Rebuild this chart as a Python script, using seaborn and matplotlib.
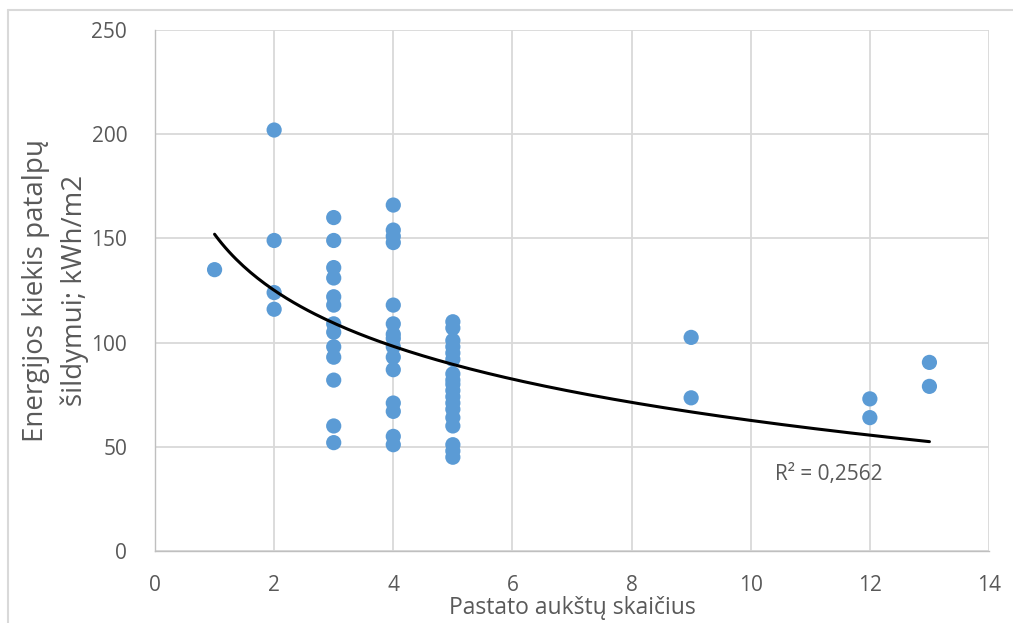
import numpy as np
import pandas as pd
import matplotlib
matplotlib.use("Agg")
import matplotlib.pyplot as plt
import seaborn as sns
from matplotlib.lines import Line2D

# Data
floors_1 = [1]
energy_1 = [135]
floors_2 = [2, 2, 2, 2]
energy_2 = [202, 149, 124, 116]
floors_3 = [3] * 13
energy_3 = [160, 149, 136, 131, 122, 118, 109, 105, 98, 93, 82, 60, 52]
floors_4 = [4] * 15
energy_4 = [166, 154, 151, 148, 118, 109, 104, 102, 98, 93, 87, 71, 67, 55, 51]
floors_5 = [5] * 18
energy_5 = [110, 107, 101, 98, 95, 92, 85, 82, 80, 77, 74, 71, 68, 64, 60, 51, 48, 45]
floors_hi = [9, 9, 12, 12, 13, 13]
energy_hi = [102.5, 73.5, 73, 64, 90.5, 79]

# Logarithmic trendline coefficients (y = a + b ln x)
trend_a = 152.0
trend_b = -38.8
r2_label = "R² = 0,2562"

x_ticks = [0, 2, 4, 6, 8, 10, 12, 14]
y_ticks = [0, 50, 100, 150, 200, 250]
x_label = "Pastato aukštų skaičius"
y_label = "Energijos kiekis patalpų\nšildymui; kWh/m2"

df = pd.DataFrame({
    "floors": floors_1 + floors_2 + floors_3 + floors_4 + floors_5 + floors_hi,
    "energy": energy_1 + energy_2 + energy_3 + energy_4 + energy_5 + energy_hi,
})

sns.set_theme(style="white")
plt.rcParams["font.family"] = ["Open Sans", "DejaVu Sans"]

fig = plt.figure(figsize=(10.13, 6.23), dpi=100)
ax = fig.add_axes([155 / 1013, 1 - 551 / 623, (989 - 155) / 1013, (551 - 30) / 623])

grid_c = "#D9D9D9"
text_c = "#595959"
ax.set_axisbelow(True)
ax.grid(True, color=grid_c, linewidth=1.3)

sns.scatterplot(data=df, x="floors", y="energy", ax=ax, color="#5B9BD5",
                s=120, edgecolor="none", zorder=3)

xs = np.linspace(min(df["floors"]), max(df["floors"]), 200)
trend = pd.DataFrame({"x": xs, "y": trend_a + trend_b * np.log(xs)})
sns.lineplot(data=trend, x="x", y="y", ax=ax, color="black", linewidth=2.2, zorder=4)

ax.set_xlim(0, 14)
ax.set_ylim(0, 250)
ax.set_xticks(x_ticks)
ax.set_yticks(y_ticks)
ax.tick_params(axis="both", length=0, labelsize=15, labelcolor=text_c)
ax.tick_params(axis="x", pad=17)
ax.tick_params(axis="y", pad=20)
for s in ["top", "right"]:
    ax.spines[s].set_visible(False)
for s in ["left", "bottom"]:
    ax.spines[s].set_color("#BFBFBF")
    ax.spines[s].set_linewidth(1.0)

ax.set_xlabel(x_label, fontsize=16.5, color=text_c, labelpad=0)
ax.set_ylabel(y_label, fontsize=20, color=text_c, labelpad=2, linespacing=1.45)

ax.text(10.4, 36.5, r2_label, fontsize=15, color=text_c, va="center", ha="left")

fig.add_artist(Line2D([8 / 1013, 8 / 1013], [0, 1 - 10 / 623], transform=fig.transFigure,
                      color=grid_c, linewidth=1.5))
fig.add_artist(Line2D([8 / 1013, 1], [1 - 10 / 623, 1 - 10 / 623], transform=fig.transFigure,
                      color=grid_c, linewidth=1.5))

fig.savefig("out.png", dpi=100)
